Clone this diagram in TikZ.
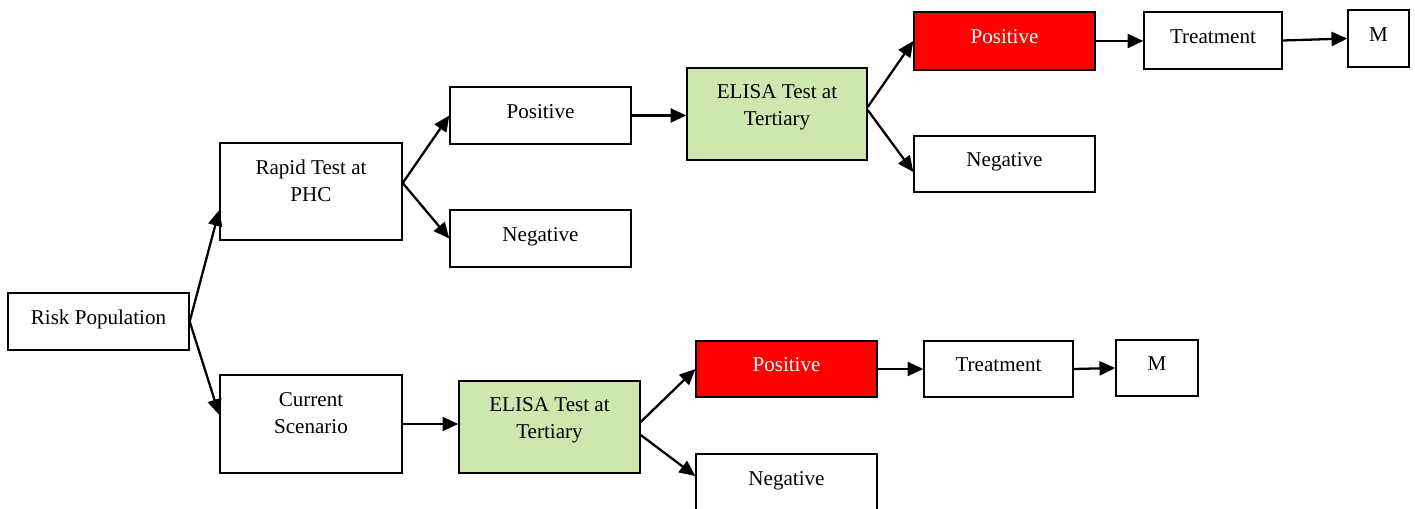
\documentclass[tikz,border=0pt]{standalone}
\usepackage{fontspec}
\setmainfont{Liberation Serif}
\usetikzlibrary{arrows.meta}

\definecolor{elisagreen}{RGB}{205,231,175}

\tikzset{
  box/.style={draw, line width=0.8pt, inner sep=0pt, align=center,
    font=\fontsize{12}{15.3}\selectfont, text height=9pt, text depth=6pt},
  stage/.style={draw, line width=0.8pt, inner sep=0pt, align=center,
    font=\fontsize{12}{15.3}\selectfont, text depth=12.5pt},
  elisabox/.style={stage, fill=elisagreen, text depth=10pt},
  posbox/.style={box, fill=red, text=white},
  link/.style={->, line width=1.3pt}
}

\begin{document}
\begin{tikzpicture}[x=0.02cm,y=0.02cm,>={Triangle[length=9pt,width=8pt]}]
        \clip (0,0) rectangle (1415,508);
        % upper branch
        \node (risk) [box, minimum width=3.62cm, minimum height=1.14cm] at (98.5,186.5) {Risk Population};
        \node (rapid) [stage, minimum width=3.64cm, minimum height=1.94cm] at (311,316.5) {Rapid Test at\\PHC};
        \node (pos1) [box, minimum width=3.62cm, minimum height=1.14cm] at (540.5,392.5) {Positive};
        \node (neg1) [box, minimum width=3.62cm, minimum height=1.14cm] at (540.5,269.5) {Negative};
        \node (elisa1) [elisabox, minimum width=3.6cm, minimum height=1.84cm] at (777,394) {ELISA Test at\\Tertiary};
        \node (pos2) [posbox, minimum width=3.62cm, minimum height=1.16cm] at (1004.5,467) {Positive};
        \node (neg2) [box, minimum width=3.62cm, minimum height=1.12cm] at (1004.5,344) {Negative};
        \node (treat1) [box, minimum width=2.76cm, minimum height=1.14cm] at (1213,467.5) {Treatment};
        \node (m1) [box, minimum width=1.22cm, minimum height=1.14cm] at (1378.5,469.5) {M};
        % lower branch
        \node (current) [stage, minimum width=3.64cm, minimum height=1.96cm] at (311,84) {Current\\Scenario};
        \node (elisa2) [elisabox, minimum width=3.62cm, minimum height=1.84cm] at (549.5,81) {ELISA Test at\\Tertiary};
        \node (pos3) [posbox, minimum width=3.62cm, minimum height=1.12cm] at (786.5,139) {Positive};
        \node (neg3) [box, minimum width=3.62cm, minimum height=1.14cm] at (786.5,25.5) {Negative};
        \node (treat2) [box, minimum width=2.98cm, minimum height=1.12cm] at (998.5,139) {Treatment};
        \node (m2) [box, minimum width=1.64cm, minimum height=1.12cm] at (1157,140) {M};

        \draw[link] (risk.east) -- ([yshift=-0.37cm]rapid.west);
        \draw[link] (risk.east) -- ([yshift=0.18cm]current.west);
        \draw[link] ([yshift=0.17cm]rapid.east) -- (pos1.west);
        \draw[link] ([yshift=0.17cm]rapid.east) -- (neg1.west);
        \draw[link] (pos1.east) -- (pos1.east -| elisa1.west);
        \draw[link] ([yshift=0.14cm]elisa1.east) -- (pos2.west);
        \draw[link] ([yshift=0.08cm]elisa1.east) -- ([yshift=-0.16cm]neg2.west);
        \draw[link] (pos2.east) -- (pos2.east -| treat1.west);
        \draw[link] (treat1.east) -- (m1.west);
        \draw[link] (current.east) -- (current.east -| elisa2.west);
        \draw[link] ([yshift=0.1cm]elisa2.east) -- (pos3.west);
        \draw[link] ([yshift=-0.16cm]elisa2.east) -- ([yshift=0.13cm]neg3.west);
        \draw[link] (pos3.east) -- (pos3.east -| treat2.west);
        \draw[link] (treat2.east) -- (m2.west);
    \end{tikzpicture}
\end{document}
